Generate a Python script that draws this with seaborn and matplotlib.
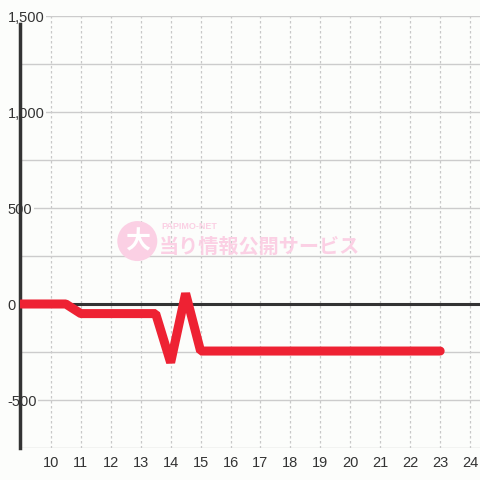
import pandas as pd
import numpy as np
import seaborn as sns
import matplotlib.pyplot as plt
from matplotlib.ticker import MultipleLocator, FuncFormatter

# data (hour, balance)
hours = [9.0, 10.0, 10.5, 11.0, 13.5, 14.0, 14.5, 15.0, 23.0]
balance = [0, 0, 0, -50, -50, -305, 55, -245, -245]

df = pd.DataFrame({'hour': hours, 'balance': balance})

sns.set_style('white')
plt.rcParams['font.family'] = ['Liberation Sans', 'Noto Sans CJK JP', 'DejaVu Sans']

BG = '#fcfdfb'
PINK = '#fbd0e4'

fig = plt.figure(figsize=(4.8, 4.8), dpi=100)
fig.patch.set_facecolor(BG)
ax = fig.add_axes([20/480, 32/480, 460/480, 432/480])
ax.set_facecolor(BG)

ax.set_xlim(8.97, 24.33)
ax.set_ylim(-750, 1500)

# grid
ax.yaxis.set_major_locator(MultipleLocator(500))
ax.yaxis.set_minor_locator(MultipleLocator(250))
ax.xaxis.set_major_locator(MultipleLocator(1))
ax.grid(which='both', axis='y', color='#cccccc', lw=1, ls='-')
ax.grid(which='major', axis='x', color='#c8c8c8', lw=0.9, ls=(0, (2, 2)))
ax.set_axisbelow(True)

# watermark
ax.text(0.255, 0.479, '大', transform=ax.transAxes, fontsize=18, color='white',
        ha='center', va='center', family=['Noto Sans CJK JP'], fontweight='bold',
        bbox=dict(boxstyle='circle,pad=0.3', fc=PINK, ec='none'))
ax.text(0.308, 0.5127, 'PAPIMO-NET', transform=ax.transAxes, fontsize=6.5,
        color=PINK, ha='left', va='center', fontweight='bold')
ax.text(0.302, 0.466, '当り情報公開サービス', transform=ax.transAxes, fontsize=14.5,
        color=PINK, ha='left', va='center', family=['Noto Sans CJK JP'],
        fontweight='bold')

ax.axhline(0, color='#333333', lw=2.2, zorder=2)

sns.lineplot(data=df, x='hour', y='balance', ax=ax, color='#ee2233', lw=6.5,
             zorder=3, solid_joinstyle='bevel')

for s in ['top', 'right', 'bottom']:
    ax.spines[s].set_visible(False)
ax.spines['left'].set_color('#333333')
ax.spines['left'].set_linewidth(2.5)
ax.spines['left'].set_bounds(-750, 1460)
ax.spines['left'].set_zorder(1)

xt = list(range(10, 25))
ax.set_xticks(xt)
ax.set_xticklabels([str(t) for t in xt])
ax.yaxis.set_major_formatter(FuncFormatter(lambda v, p: f'{int(v):,}'))
ax.tick_params(axis='both', which='both', length=0, labelsize=10.5, colors='#333333')
ax.tick_params(axis='y', pad=9)
ax.tick_params(axis='x', pad=6)
fig.canvas.draw()
for lbl in ax.get_yticklabels():
    lbl.set_horizontalalignment('left')
    lbl.set_bbox(dict(fc=BG, ec='none', pad=1))
    lbl.set_zorder(5)
ax.set_xlabel('')
ax.set_ylabel('')

fig.savefig('out.png', dpi=100, facecolor=fig.get_facecolor())
